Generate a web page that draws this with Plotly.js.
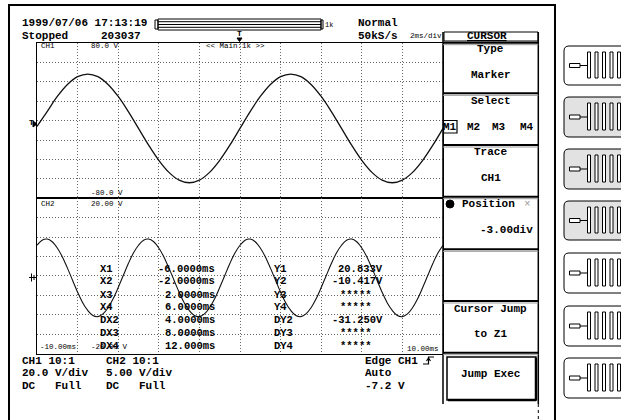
<!DOCTYPE html>
<html><head><meta charset="utf-8">
<script src="https://cdn.plot.ly/plotly-3.0.1.min.js"></script>
<style>html,body{margin:0;padding:0;background:#fff;overflow:hidden}#chart{width:621px;height:420px}</style>
</head><body><div id="chart"></div>
<script>
const timeCh1 = [-10,-9.5,-9,-8.5,-8,-7.5,-7,-6.5,-6,-5.5,-5,-4.5,-4,-3.5,-3,-2.5,-2,-1.5,-1,-0.5,0,0.5,1,1.5,2,2.5,3,3.5,4,4.5,5,5.5,6,6.5,7,7.5,8,8.5,9,9.5,10];
const voltCh1 = [-6.0,9.3,24.9,37.3,45.3,48.0,45.3,37.3,24.9,9.3,-8.0,-25.3,-40.9,-53.3,-61.3,-64.0,-61.3,-53.3,-40.9,-25.3,-8.0,9.3,24.9,37.3,45.3,48.0,45.3,37.3,24.9,9.3,-8.0,-25.3,-40.9,-53.3,-61.3,-64.0,-61.3,-53.3,-40.9,-25.3,-8.0];
const timeCh2 = [-10,-9.75,-9.5,-9.25,-9,-8.75,-8.5,-8.25,-8,-7.75,-7.5,-7.25,-7,-6.75,-6.5,-6.25,-6,-5.75,-5.5,-5.25,-5,-4.75,-4.5,-4.25,-4,-3.75,-3.5,-3.25,-3,-2.75,-2.5,-2.25,-2,-1.75,-1.5,-1.25,-1,-0.75,-0.5,-0.25,0,0.25,0.5,0.75,1,1.25,1.5,1.75,2,2.25,2.5,2.75,3,3.25,3.5,3.75,4,4.25,4.5,4.75,5,5.25,5.5,5.75,6,6.25,6.5,6.75,7,7.25,7.5,7.75,8,8.25,8.5,8.75,9,9.25,9.5,9.75,10];
const voltCh2 = [7.9,9.2,9.5,8.8,7.2,4.9,2.0,-1.1,-4.2,-6.9,-8.9,-10.2,-10.5,-9.8,-8.2,-5.9,-3.0,0.1,3.2,5.9,
                 7.9,9.2,9.5,8.8,7.2,4.9,2.0,-1.1,-4.2,-6.9,-8.9,-10.2,-10.5,-9.8,-8.2,-5.9,-3.0,0.1,3.2,5.9,
                 7.9,9.2,9.5,8.8,7.2,4.9,2.0,-1.1,-4.2,-6.9,-8.9,-10.2,-10.5,-9.8,-8.2,-5.9,-3.0,0.1,3.2,5.9,
                 7.9,9.2,9.5,8.8,7.2,4.9,2.0,-1.1,-4.2,-6.9,-8.9,-10.2,-10.5,-9.8,-8.2,-5.9,-3.0,0.1,3.2,5.9,
                 7.9];
const timeRange = [-10, 10];
const ch1Range = [-80, 80];
const ch2Range = [-20, 20];
const ch1ScaleLabels = ['80.0 V', '-80.0 V'];
const ch2ScaleLabels = ['20.00 V', '-20.00 V'];
const timeLabels = ['-10.00ms', '10.00ms'];
const cursorXNames = ['X1','X2','X3','X4','DX2','DX3','DX4'];
const cursorXValues = ['-6.0000ms','-2.0000ms','2.0000ms','6.0000ms','4.0000ms','8.0000ms','12.000ms'];
const cursorYNames = ['Y1','Y2','Y3','Y4','DY2','DY3','DY4'];
const cursorYValues = ['20.833V','-10.417V','*****','*****','-31.250V','*****','*****'];
const menuTitles = ['Type','Select','Trace','Position','','Cursor Jump','Jump Exec'];
const menuValues = ['Marker','','CH1','-3.00div','','to Z1',''];
const markerNames = ['M1','M2','M3','M4'];

// ---- helpers ----
const W = 621, H = 420;
const MONO = '"Liberation Mono", "DejaVu Sans Mono", monospace';
const X = v => v / W, Y = v => 1 - v / H;
const ann = [], shp = [];
function T(x, y, text, size, o = {}) {
  ann.push({xref:'paper', yref:'paper', x:X(x), y:Y(y), text:(o.bold === false ? text : '<b>' + text + '</b>'),
    showarrow:false, xanchor:o.anchor || 'left', yanchor:'middle', borderpad:0,
    font:{family:MONO, size:size, color:o.color || '#000'}});
}
function R(x0, y0, x1, y1, o = {}) {
  shp.push({type:'rect', xref:'paper', yref:'paper', x0:X(x0), x1:X(x1), y0:Y(y0), y1:Y(y1),
    line:{color:o.color || '#000', width:o.w === undefined ? 1 : o.w}, fillcolor:o.fill || 'rgba(0,0,0,0)', layer:o.layer || 'above'});
}
function L(x0, y0, x1, y1, o = {}) {
  shp.push({type:'line', xref:'paper', yref:'paper', x0:X(x0), x1:X(x1), y0:Y(y0), y1:Y(y1),
    line:{color:o.color || '#000', width:o.w || 1, dash:o.dash || 'solid'}, layer:'above'});
}
function P(d, o = {}) {
  shp.push({type:'path', xref:'paper', yref:'paper', path:d, line:{color:o.color || '#000', width:o.w || 1},
    fillcolor:o.fill || 'rgba(0,0,0,0)', layer:'above'});
}
const pt = (x, y) => X(x) + ',' + Y(y);
function roundRect(x0, y0, x1, y1, r, o) {
  const d = 'M' + pt(x0 + r, y0) + ' L' + pt(x1 - r, y0) + ' Q' + pt(x1, y0) + ' ' + pt(x1, y0 + r) +
    ' L' + pt(x1, y1 - r) + ' Q' + pt(x1, y1) + ' ' + pt(x1 - r, y1) + ' L' + pt(x0 + r, y1) +
    ' Q' + pt(x0, y1) + ' ' + pt(x0, y1 - r) + ' L' + pt(x0, y0 + r) + ' Q' + pt(x0, y0) + ' ' + pt(x0 + r, y0) + ' Z';
  P(d, o);
}

// ---- outer frame ----
R(9, 5, 555, 430, {w:2});

// ---- header ----
T(21, 23, '1999/07/06 17:13:19', 11);
T(21, 35.5, 'Stopped', 11);
T(100, 35.5, '203037', 11);
T(357, 23, 'Normal', 11);
T(357, 35.5, '50kS/s', 11);
T(409, 36, '2ms/div', 7.5, {bold:false});
// record bar
R(155, 20, 158, 29);
R(158, 19, 321, 30);
L(158, 21.7, 321, 21.7); L(158, 24.5, 321, 24.5); L(158, 27.3, 321, 27.3);
R(321, 20, 323, 29);
T(324, 25, '1k', 7, {bold:false});
T(239, 33.5, 'T', 8, {anchor:'center'});
P('M' + pt(237, 38) + ' L' + pt(242, 38) + ' L' + pt(239.5, 41.5) + ' Z', {fill:'#000'});

// ---- scope grid via axes ----
const gx = {range:timeRange, dtick:2, tick0:-10, showgrid:true, gridcolor:'#666', griddash:'1px,2px', gridwidth:1,
  zeroline:false, showticklabels:false, ticks:'', showline:true, mirror:true, linecolor:'#000', linewidth:1,
  domain:[X(37), X(443)], fixedrange:true};
const layout = {
  width:W, height:H, margin:{l:0, r:0, t:0, b:0}, paper_bgcolor:'#fff', plot_bgcolor:'#fff', showlegend:false,
  xaxis:Object.assign({}, gx, {anchor:'y'}),
  xaxis2:Object.assign({}, gx, {anchor:'y2'}),
  yaxis:{range:ch1Range, dtick:20, tick0:-80, showgrid:true, gridcolor:'#666', griddash:'1px,2px', zeroline:false,
    showticklabels:false, ticks:'', showline:true, mirror:true, linecolor:'#000', linewidth:1, domain:[Y(198.3), Y(43)], anchor:'x'},
  yaxis2:{range:ch2Range, dtick:5, tick0:-20, showgrid:true, gridcolor:'#666', griddash:'1px,2px', zeroline:false,
    showticklabels:false, ticks:'', showline:true, mirror:true, linecolor:'#000', linewidth:1, domain:[Y(353.5), Y(198.3)], anchor:'x2'},
  annotations:ann, shapes:shp
};
const traces = [
  {x:timeCh1, y:voltCh1, xaxis:'x', yaxis:'y', type:'scatter', mode:'lines', line:{color:'#111', width:1.3, shape:'spline', smoothing:1}, hoverinfo:'skip'},
  {x:timeCh2, y:voltCh2, xaxis:'x2', yaxis:'y2', type:'scatter', mode:'lines', line:{color:'#111', width:1.1, shape:'spline', smoothing:1}, hoverinfo:'skip'}
];

// channel scale labels
T(40, 46, 'CH1', 7.5, {bold:false});
T(90, 46, ch1ScaleLabels[0], 7.5, {bold:false});
T(205, 46, '&lt;&lt; Main:1k &gt;&gt;', 7.5, {bold:false});
T(90, 193.5, ch1ScaleLabels[1], 7.5, {bold:false});
T(40, 203.5, 'CH2', 7.5, {bold:false});
T(90, 203.5, ch2ScaleLabels[0], 7.5, {bold:false});
T(39, 347, timeLabels[0], 7.5, {bold:false});
T(90, 347, ch2ScaleLabels[1], 7.5, {bold:false});
T(440, 349, timeLabels[1], 7.5, {bold:false, anchor:'right'});
// trigger / ground markers
T(31, 122.5, 'T', 8, {anchor:'center'});
P('M' + pt(33, 121) + ' L' + pt(37, 124) + ' L' + pt(33, 127) + ' Z', {fill:'#000'});
L(29, 277.5, 36, 277.5); L(31.5, 273.5, 31.5, 281.5); L(34, 275, 34, 280);

// cursor readouts
const rowsY = [269.2, 281.2, 294.5, 307, 319.7, 333, 345.5];
for (let i = 0; i < 7; i++) {
  T(99, rowsY[i], cursorXNames[i], 10.5);
  T(216, rowsY[i], cursorXValues[i], 10.5, {anchor:'right'});
  T(273, rowsY[i], cursorYNames[i], 10.5);
  if (cursorYValues[i].indexOf('*') === 0) T(339, rowsY[i], cursorYValues[i], 10.5);
  else T(384, rowsY[i], cursorYValues[i], 10.5, {anchor:'right'});
}

// bottom info
T(21, 360.5, 'CH1 10:1', 11); T(105, 360.5, 'CH2 10:1', 11);
T(21, 373, '20.0 V/div', 11); T(105, 373, '5.00 V/div', 11);
T(21, 385.5, 'DC', 11); T(54, 385.5, 'Full', 11); T(105, 385.5, 'DC', 11); T(138, 385.5, 'Full', 11);
T(364, 361, 'Edge CH1', 11); T(364, 373, 'Auto', 11); T(364, 385.5, '-7.2 V', 11);
P('M' + pt(423, 364) + ' L' + pt(428.5, 364) + ' L' + pt(428.5, 357) + ' L' + pt(434, 357), {w:1.2});
P('M' + pt(426.5, 361) + ' L' + pt(428.5, 358) + ' L' + pt(430.5, 361), {w:1.2});

// ---- soft-key menu ----
R(444, 32, 538, 41, {w:1});
T(487, 36, '<u>CURSOR</u>', 11, {anchor:'center'});
const sep = [42.7, 93.3, 145, 196.7, 249.3, 301, 352.7];
L(443, 32, 443, 404, {w:1.5});
L(538.3, 32, 538.3, 404, {w:1.5});
L(538.3, 404, 538.3, 420, {w:1, dash:'3px,3px'});
sep.forEach(y => { L(443, y, 538.3, y, {w:2}); L(443, y + 2, 538.3, y + 2, {w:1, color:'#999'}); });
const cx = 490.5;
T(cx, 49, menuTitles[0], 11, {anchor:'center'}); T(cx, 74.5, menuValues[0], 11, {anchor:'center'});
T(cx, 100.5, menuTitles[1], 11, {anchor:'center'});
const mx = [450, 474, 499, 527];
markerNames.forEach((m, i) => T(mx[i], 126.5, m, 11, {anchor:'center'}));
R(443.5, 120.5, 457, 133, {w:1.2});
T(cx, 152, menuTitles[2], 11, {anchor:'center'}); T(cx, 177.5, menuValues[2], 11, {anchor:'center'});
shp.push({type:'circle', xref:'paper', yref:'paper', x0:X(446), x1:X(454), y0:Y(200), y1:Y(208), fillcolor:'#000', line:{color:'#000', width:1}, layer:'above'});
T(461, 204, menuTitles[3], 11);
T(527, 204, '×', 11, {bold:false, color:'#999', anchor:'center'});
T(534, 230, menuValues[3], 11, {anchor:'right'});
T(cx, 308.5, menuTitles[5], 11, {anchor:'center'}); T(cx, 333.5, menuValues[5], 11, {anchor:'center'});
R(447, 357, 536, 400, {w:1.5});
L(448, 400, 536, 400, {w:2.5}); L(536, 358, 536, 400.5, {w:2.5});
T(cx, 373.5, menuTitles[6], 11, {anchor:'center'});

// ---- hardware buttons ----
const btnY = [[46, 85], [97, 137], [149, 189], [201, 240], [253, 293], [306, 346], [358, 398]];
const btnFill = ['#fff', '#e2e2e2', '#e2e2e2', '#e2e2e2', '#fff', '#fff', '#fff'];
btnY.forEach((b, i) => {
  roundRect(564, b[0], 640, b[1], 5, {fill:btnFill[i], w:1});
  const c = (b[0] + b[1]) / 2;
  R(569.5, c - 2, 580, c + 2, {w:1, fill:'#fff'});
  L(580, c, 587, c, {w:1});
  [587.5, 595, 602.5, 610, 617.5].forEach(bx => R(bx, b[0] + 6, bx + 3, b[1] - 7, {w:1, fill:'#fff'}));
});

Plotly.newPlot('chart', traces, layout, {staticPlot:true, displayModeBar:false});
</script>
</body></html>
